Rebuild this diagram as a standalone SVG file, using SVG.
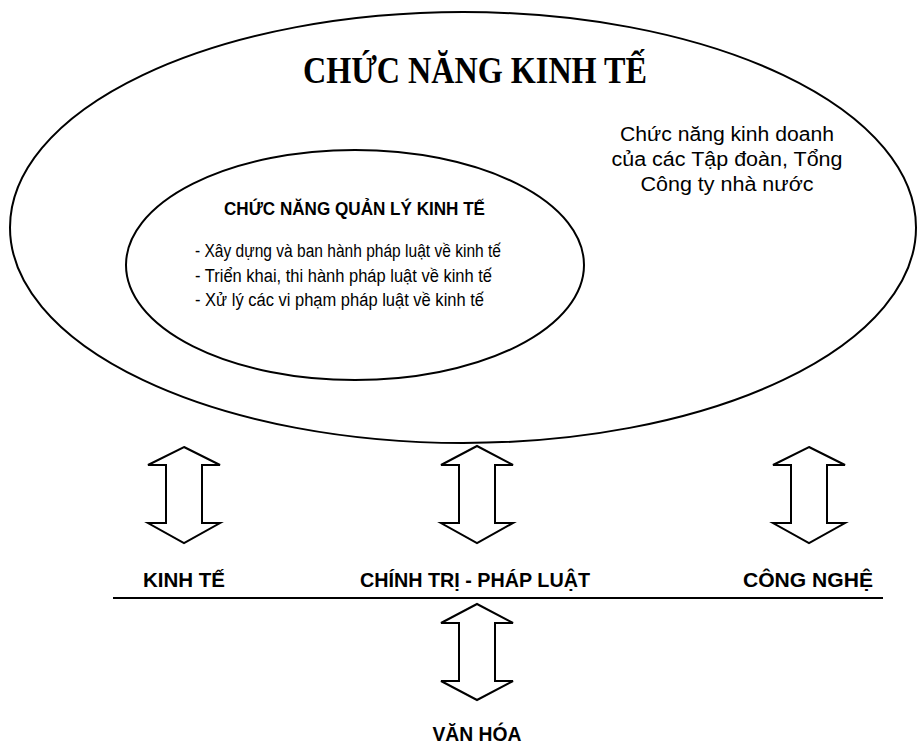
<svg xmlns="http://www.w3.org/2000/svg" width="917" height="751" viewBox="0 0 917 751">
<style>
.shape{fill:none;stroke:#000;stroke-width:2}
.arrow{fill:#fff;stroke:#000;stroke-width:2;stroke-linejoin:miter}
.title{font-family:"Liberation Serif","Times New Roman",serif;font-weight:bold;font-size:37px;fill:#000}
.sub{font-family:"Liberation Sans",Arial,sans-serif;font-weight:bold;font-size:18px;fill:#000}
.body{font-family:"Liberation Sans",Arial,sans-serif;font-size:18px;fill:#000}
.right{font-family:"Liberation Sans",Arial,sans-serif;font-size:20px;fill:#000}
.label{font-family:"Liberation Sans",Arial,sans-serif;font-weight:bold;font-size:21px;fill:#000}
</style>
<rect width="917" height="751" fill="#fff"/>
<g id="outer-ellipse">
<ellipse class="shape" cx="463" cy="227.5" rx="453" ry="215.5"/>
<text class="title" x="475" y="83" text-anchor="middle" textLength="344" lengthAdjust="spacingAndGlyphs">CHỨC NĂNG KINH TẾ</text>
<text class="right" x="727" y="141" text-anchor="middle" textLength="214" lengthAdjust="spacingAndGlyphs">Chức năng kinh doanh</text>
<text class="right" x="727" y="166" text-anchor="middle" textLength="231" lengthAdjust="spacingAndGlyphs">của các Tập đoàn, Tổng</text>
<text class="right" x="727" y="191" text-anchor="middle" textLength="173" lengthAdjust="spacingAndGlyphs">Công ty nhà nước</text>
</g>
<g id="inner-ellipse">
<ellipse class="shape" cx="355" cy="265" rx="229" ry="115"/>
<text class="sub" x="224" y="215" textLength="261" lengthAdjust="spacingAndGlyphs">CHỨC NĂNG QUẢN LÝ KINH TẾ</text>
<text class="body" x="195" y="257" textLength="306" lengthAdjust="spacingAndGlyphs">- Xây dựng và ban hành pháp luật về kinh tế</text>
<text class="body" x="195" y="282" textLength="297" lengthAdjust="spacingAndGlyphs">- Triển khai, thi hành pháp luật về kinh tế</text>
<text class="body" x="195" y="306" textLength="289" lengthAdjust="spacingAndGlyphs">- Xử lý các vi phạm pháp luật về kinh tế</text>
</g>
<g id="kinh-te">
<text class="label" x="184" y="587" text-anchor="middle" textLength="82" lengthAdjust="spacingAndGlyphs">KINH TẾ</text>
</g>
<g id="chinh-tri-phap-luat">
<text class="label" x="475" y="587" text-anchor="middle" textLength="230" lengthAdjust="spacingAndGlyphs">CHÍNH TRỊ - PHÁP LUẬT</text>
</g>
<g id="cong-nghe">
<text class="label" x="808" y="587" text-anchor="middle" textLength="130" lengthAdjust="spacingAndGlyphs">CÔNG NGHỆ</text>
</g>
<g id="van-hoa">
<text class="label" x="477" y="741" text-anchor="middle" textLength="89" lengthAdjust="spacingAndGlyphs">VĂN HÓA</text>
</g>
<g id="connectors">
<line class="shape" x1="113" y1="598" x2="883" y2="598"/>
<path class="arrow" d="M184,447 L220,465 L202,465 L202,523 L220,523 L184,543 L148,523 L166,523 L166,465 L148,465 Z"/>
<path class="arrow" d="M477,446 L513,465 L495,465 L495,523 L513,523 L477,543 L441,523 L459,523 L459,465 L441,465 Z"/>
<path class="arrow" d="M809,447 L845,465 L827,465 L827,523 L845,523 L809,543 L773,523 L791,523 L791,465 L773,465 Z"/>
<path class="arrow" d="M477,604 L513,623 L495,623 L495,681 L513,681 L477,700 L441,681 L459,681 L459,623 L441,623 Z"/>
</g>
</svg>
